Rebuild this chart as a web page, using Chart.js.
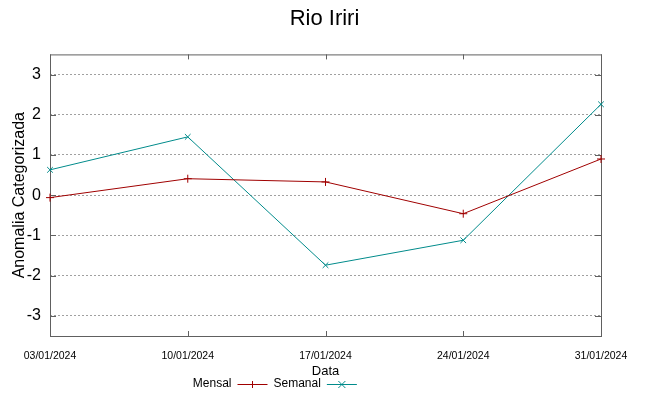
<!DOCTYPE html>
<html>
<head>
<meta charset="utf-8">
<script src="https://cdn.jsdelivr.net/npm/chart.js@4/dist/chart.umd.min.js"></script>
<style>html,body{margin:0;padding:0;background:#fff}</style>
</head>
<body>
<canvas id="chart" width="649" height="396"></canvas>
<script>
// Dados
const titulo = 'Rio Iriri';
const datas = ['03/01/2024', '10/01/2024', '17/01/2024', '24/01/2024', '31/01/2024'];
const mensal = [-0.06, 0.41, 0.33, -0.46, 0.90];
const semanal = [0.63, 1.45, -1.74, -1.12, 2.26];
const yTicks = [-3, -2, -1, 0, 1, 2, 3];

const regular = "'Liberation Sans', Arial, sans-serif";

function marker(ctx, style, x, y, r) {
  ctx.beginPath();
  if (style === 'cross') {
    ctx.moveTo(x - r, y); ctx.lineTo(x + r, y);
    ctx.moveTo(x, y - r); ctx.lineTo(x, y + r);
  } else {
    ctx.moveTo(x - r, y - r); ctx.lineTo(x + r, y + r);
    ctx.moveTo(x - r, y + r); ctx.lineTo(x + r, y - r);
  }
  ctx.stroke();
}

// Moldura estilo gnuplot: caixa, marcas internas e legenda com texto antes da amostra
const gnuFrame = {
  id: 'gnuFrame',
  beforeDatasetsDraw(chart) {
    const { ctx, chartArea: a, scales: { x, y } } = chart;
    ctx.save();
    ctx.strokeStyle = '#606060';
    ctx.lineWidth = 1;
    ctx.strokeRect(a.left + 0.5, a.top + 0.5, a.right - a.left, a.bottom - a.top);
    ctx.beginPath();
    yTicks.forEach(v => {
      const py = Math.round(y.getPixelForValue(v)) + 0.5;
      ctx.moveTo(a.left, py); ctx.lineTo(a.left + 6, py);
      ctx.moveTo(a.right - 6, py); ctx.lineTo(a.right, py);
    });
    datas.forEach((_, i) => {
      const px = Math.round(x.getPixelForValue(i)) + 0.5;
      ctx.moveTo(px, a.bottom); ctx.lineTo(px, a.bottom - 5);
      ctx.moveTo(px, a.top); ctx.lineTo(px, a.top + 5);
    });
    ctx.stroke();
    ctx.restore();
  },
  afterDraw(chart) {
    const { ctx, chartArea: a } = chart;
    const sets = chart.data.datasets;
    ctx.save();
    ctx.font = '12px ' + regular;
    ctx.textAlign = 'right';
    ctx.textBaseline = 'middle';
    const textW = Math.max(...sets.map(d => ctx.measureText(d.label).width));
    const colW = textW + 42;
    const ly = 384;
    let right = (a.left + a.right) / 2 - 94;
    sets.forEach(d => {
      ctx.fillStyle = '#000';
      ctx.fillText(d.label, right, ly);
      ctx.strokeStyle = d.borderColor;
      ctx.lineWidth = 1;
      ctx.beginPath();
      ctx.moveTo(right + 6, ly + 0.5); ctx.lineTo(right + 36, ly + 0.5);
      ctx.stroke();
      marker(ctx, d.pointStyle, right + 21, ly + 0.5, 3.5);
      right += colW;
    });
    ctx.restore();
  }
};

new Chart(document.getElementById('chart'), {
  type: 'line',
  data: {
    labels: datas,
    datasets: [
      { label: 'Mensal', data: mensal, borderColor: '#a00000', backgroundColor: '#a00000', borderWidth: 1, pointStyle: 'cross', pointRadius: 4, pointBorderWidth: 1, tension: 0 },
      { label: 'Semanal', data: semanal, borderColor: '#008b8b', backgroundColor: '#008b8b', borderWidth: 1, pointStyle: 'crossRot', pointRadius: 4, pointBorderWidth: 1, tension: 0 },
    ],
  },
  options: {
    responsive: false,
    devicePixelRatio: 1,
    animation: false,
    events: [],
    layout: { padding: 0 },
    plugins: {
      legend: { display: false },
      tooltip: { enabled: false },
      title: {
        display: true, text: titulo, color: '#000',
        font: { family: regular, size: 22, weight: 'normal' },
        padding: { top: 6, bottom: 22 },
      },
    },
    scales: {
      x: {
        type: 'category',
        offset: false,
        afterFit: s => { s.height = 60; },
        grid: { display: false, drawTicks: false },
        border: { display: false },
        ticks: { color: '#000', font: { family: regular, size: 10.5 }, padding: 14, maxRotation: 0, autoSkip: false },
        title: { display: true, text: 'Data', color: '#000', font: { family: regular, size: 13 }, padding: { top: 0, bottom: 17 } },
      },
      y: {
        min: -3.5, max: 3.5,
        afterBuildTicks: s => { s.ticks = yTicks.map(v => ({ value: v })); },
        afterFit: s => { s.width = 50; },
        grid: { color: '#a0a0a0', lineWidth: 1, drawTicks: false },
        border: { display: false, dash: [2, 2] },
        ticks: { color: '#000', font: { family: regular, size: 16 }, padding: 9 },
        title: { display: true, text: 'Anomalia Categorizada', color: '#000', font: { family: regular, size: 16 }, padding: { top: 10, bottom: 0 } },
      },
      // eixo vazio à direita só para reservar a margem
      yRight: {
        position: 'right',
        min: -3.5, max: 3.5,
        afterFit: s => { s.width = 48; },
        grid: { display: false, drawTicks: false },
        border: { display: false },
        ticks: { display: false },
      },
    },
  },
  plugins: [gnuFrame],
});
</script>
</body>
</html>
